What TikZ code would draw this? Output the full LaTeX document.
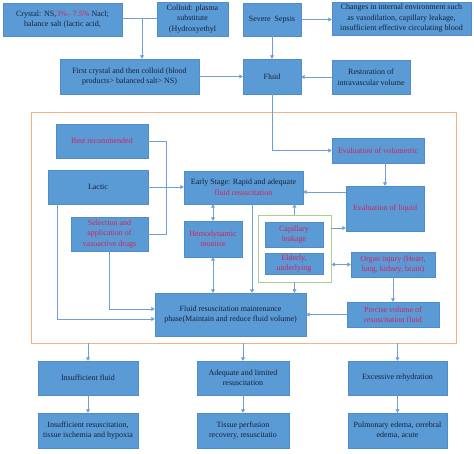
\documentclass[tikz,border=0pt]{standalone}
\usepackage{fontspec}
\setmainfont{Liberation Serif}
\usetikzlibrary{arrows.meta}
\definecolor{boxblue}{HTML}{5B9BD5}
\definecolor{boxedge}{HTML}{4F8CC9}
\definecolor{redtxt}{HTML}{D4205C}
\definecolor{darktxt}{HTML}{14213D}
\definecolor{arrowc}{HTML}{6F9FD8}
\definecolor{framec}{HTML}{F4B183}
\definecolor{greenc}{HTML}{A9D18E}
\newcommand{\rd}[1]{\textcolor{redtxt}{#1}}
\tikzset{
  bx/.style={fill=boxblue, draw=boxedge, line width=0.4pt, inner sep=1pt, align=center,
    font=\fontsize{8}{10.5}\selectfont, text=darktxt},
  rbx/.style={bx, text=redtxt},
  arr/.style={draw=arrowc, line width=0.8pt, -{Triangle[width=4pt,length=3.5pt]}},
  darr/.style={draw=arrowc, line width=0.8pt, {Triangle[width=4pt,length=3.5pt]}-{Triangle[width=4pt,length=3.5pt]}},
  ln/.style={draw=arrowc, line width=0.8pt}
}
\begin{document}
\begin{tikzpicture}[x=1pt,y=-1pt]
\useasboundingbox (0,0) rectangle (474,453);
% frames
\node[draw=framec, line width=0.9pt, minimum width=425pt, minimum height=231pt, inner sep=0pt] (frame) at (243.5,227.5) {};
\node[draw=greenc, line width=0.9pt, minimum width=73pt, minimum height=67pt, inner sep=0pt] (green) at (294.5,248.5) {};
% top
\node[bx, minimum width=119pt, minimum height=33pt] (crystal) at (62.5,19.5) {Crystal: NS,\rd{3\%– 7.5\%} Nacl;\\balance salt (lactic acid,};
\node[bx, minimum width=71pt, minimum height=34pt] (colloid) at (192.5,19) {Colloid: plasma\\substitute\\(Hydroxyethyl};
\node[bx, minimum width=58pt, minimum height=33pt] (sepsis) at (272,19.5) {Severe\ \ Sepsis};
\node[bx, minimum width=139pt, minimum height=33pt] (changes) at (401.5,18.5) {Changes in internal environment such\\as vasodilation, capillary leakage,\\insufficient effective circulating blood};
\node[bx, minimum width=139pt, minimum height=35pt] (first) at (129.5,76.5) {First crystal and then colloid (blood\\products> balanced salt> NS)};
\node[bx, minimum width=58pt, minimum height=35pt] (fluid) at (272,76.5) {Fluid};
\node[bx, minimum width=78pt, minimum height=34pt] (restor) at (371,77) {Restoration of\\intravascular volume};
% inside frame
\node[rbx, minimum width=92pt, minimum height=34pt] (bestrec) at (102,141) {Best recommended};
\node[bx, minimum width=100pt, minimum height=34pt] (lactic) at (98,187) {Lactic};
\node[rbx, minimum width=77pt, minimum height=34pt] (select) at (109.5,234) {Selection and\\application of\\vasoactive drugs};
\node[bx, minimum width=119pt, minimum height=33pt] (early) at (243.5,187.5) {Early Stage: Rapid and adequate\\\rd{fluid resuscitation}};
\node[rbx, minimum width=58pt, minimum height=36pt] (hemo) at (213,239) {Hemodynamic\\monitor};
\node[rbx, minimum width=58pt, minimum height=25pt] (cap) at (294,234.5) {Capillary\\leakage};
\node[rbx, minimum width=58pt, minimum height=21pt] (elder) at (294,263.5) {Elderly,\\underlying};
\node[rbx, minimum width=92pt, minimum height=25pt] (evalvol) at (378,150.5) {Evaluation of volumetric};
\node[rbx, minimum width=78pt, minimum height=45pt] (evalliq) at (385,208.5) {Evaluation of liquid};
\node[rbx, minimum width=84pt, minimum height=25pt] (organ) at (393,264.5) {Organ injury (Heart,\\lung, kidney, brain)};
\node[rbx, minimum width=92pt, minimum height=25pt] (precise) at (393,314.5) {Precise volume of\\resuscitation fluid};
\node[bx, minimum width=151pt, minimum height=43pt] (maint) at (230.5,314.5) {Fluid resuscitation maintenance\\phase(Maintain and reduce fluid volume)};
% bottom
\node[bx, minimum width=100pt, minimum height=34pt] (insf) at (88,378) {Insufficient fluid};
\node[bx, minimum width=92pt, minimum height=34pt] (adeq) at (243,378) {Adequate and limited\\resuscitation};
\node[bx, minimum width=99pt, minimum height=34pt] (exces) at (397.5,378) {Excessive rehydration};
\node[bx, minimum width=100pt, minimum height=35pt] (insr) at (88,430.5) {Insufficient resuscitation,\\tissue ischemia and hypoxia};
\node[bx, minimum width=92pt, minimum height=35pt] (tissue) at (243,430.5) {Tissue perfusion\\recovery, resuscitatio};
\node[bx, minimum width=99pt, minimum height=35pt] (pulm) at (397.5,430.5) {Pulmonary edema, cerebral\\edema, acute};
% helper coordinates
\coordinate (c142) at (142,18);
\coordinate (c166) at (166,0);
\coordinate (c252) at (252,0);
\coordinate (c57) at (57,0);
\coordinate (r192) at (0,192);
\coordinate (r228) at (0,228);
\coordinate (r309) at (0,309);
\coordinate (r319) at (0,319);
% connectors top
\draw[ln] (crystal.east |- c142) -- (colloid.west |- c142);
\draw[arr] (c142) -- (c142 |- first.north);
\draw[arr] (first) -- (fluid);
\draw[arr] (sepsis) -- (sepsis -| changes.west);
\draw[arr] (sepsis) -- (fluid);
\draw[arr] (restor) -- (restor -| fluid.east);
\draw[arr] (fluid.south) -- (fluid.south |- evalvol.west) -- (evalvol.west);
% inside
\draw[arr] (evalvol.south -| evalliq.north) -- (evalliq.north);
\draw[arr] (evalliq.west |- r192) -- (early.east |- r192);
\draw[ln] (bestrec.east) -- (bestrec.east -| c166) -- (select.east -| c166) -- (select.east);
\draw[arr] (lactic.east) -- (lactic.east -| early.west);
\draw[darr] (early.south -| hemo.north) -- (hemo.north);
\draw[darr] (hemo.south) -- (hemo.south |- maint.north);
\draw[arr] (early.south -| c252) -- (maint.north -| c252);
\draw[arr] (green.north) -- (green.north |- early.south);
\draw[arr] (green.south) -- (green.south |- maint.north);
\draw[arr] (green.east |- r228) -- (evalliq.west |- r228);
\draw[darr] (green.east |- organ.west) -- (organ.west);
\draw[arr] (organ.south) -- (precise.north);
\draw[arr] (precise.west) -- (precise.west -| maint.east);
\draw[arr] (select.south) -- (select.south |- r309) -- (maint.west |- r309);
\draw[arr] (lactic.south -| c57) -- (c57 |- r319) -- (maint.west |- r319);
% bottom
\draw[arr] (frame.south -| insf.north) -- (insf.north);
\draw[arr] (frame.south -| adeq.north) -- (adeq.north);
\draw[arr] (frame.south -| exces.north) -- (exces.north);
\draw[arr] (insf) -- (insr);
\draw[arr] (adeq) -- (tissue);
\draw[arr] (exces) -- (pulm);
\end{tikzpicture}
\end{document}
